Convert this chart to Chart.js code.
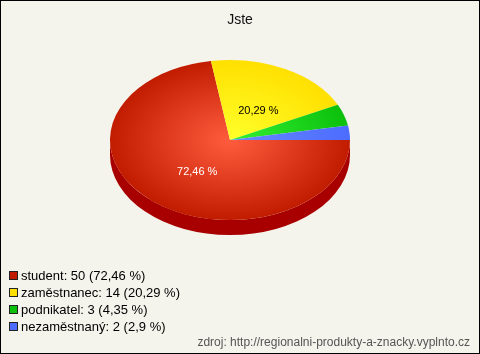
<!DOCTYPE html>
<html>
<head>
<meta charset="utf-8">
<script src="https://cdn.jsdelivr.net/npm/chart.js@4"></script>
<style>
    html, body { margin: 0; padding: 0; }
    body { width: 480px; height: 354px; overflow: hidden; }
    #frame {
        position: relative; width: 480px; height: 354px; box-sizing: border-box;
        border: 1px solid #000; background: #f4f3ec;
        font-family: "Liberation Sans", Arial, sans-serif;
    }
    #chart { position: absolute; left: 0; top: 0; }
    #title { position: absolute; left: 0; top: 10px; width: 478px; text-align: center; font-size: 14px; color: #111; }
    #legend { position: absolute; left: 8px; top: 266px; font-size: 13px; color: #000; }
    #legend div { height: 17px; line-height: 17px; white-space: nowrap; }
    #legend span.box { display: inline-block; width: 7px; height: 7px; border: 1px solid #222; margin-right: 3px; vertical-align: 0px; }
    #source { position: absolute; right: 9px; top: 334px; font-size: 12px; color: #555; }
</style>
</head>
<body>
<div id="frame">
    <canvas id="chart" width="478" height="352"></canvas>
    <div id="title">Jste</div>
    <div id="legend"></div>
    <div id="source">zdroj: http://regionalni-produkty-a-znacky.vyplnto.cz</div>
</div>
<script>
const labels = ['student', 'zaměstnanec', 'podnikatel', 'nezaměstnaný'];
const counts = [50, 14, 3, 2];
// light (centre) / dark (edge) / side wall
const lightColors = ['#ff5c3e', '#ffff2a', '#34f034', '#6888ff'];
const darkColors = ['#c21c00', '#ffe000', '#0cc00c', '#4c6cff'];
const sideColors = ['#a80000', '#c8b000', '#089008', '#3048c0'];
const labelColors = ['#ffffff', '#000000', '#000000', '#000000'];

const total = counts.reduce((a, b) => a + b, 0);
const pctText = v => (Math.round(v / total * 10000) / 100).toString().replace('.', ',') + ' %';

// squash factor for the tilted pie, and wall depth
const SQUASH = 80 / 120;
const DEPTH = 15;

// legend as text
const legendEl = document.getElementById('legend');
labels.forEach((l, i) => {
    const row = document.createElement('div');
    row.innerHTML = '<span class="box" style="background:' + darkColors[i] + '"></span>' +
        l + ': ' + counts[i] + ' (' + pctText(counts[i]) + ')';
    legendEl.appendChild(row);
});

const pie3d = {
    id: 'pie3d',
    beforeDatasetsDraw(chart) {
        const ctx = chart.ctx;
        const arcs = chart.getDatasetMeta(0).data;
        if (!arcs.length) return;
        const cx = arcs[0].x, cy = arcs[0].y, r = arcs[0].outerRadius;
        const ry = r * SQUASH;
        ctx.save();
        arcs.forEach((arc, i) => {
            let s = arc.startAngle, e = arc.endAngle;
            const a = Math.max(s, 0), b = Math.min(e, Math.PI);
            if (b <= a) return;
            ctx.beginPath();
            ctx.ellipse(cx, cy, r, ry, 0, a, b);
            ctx.lineTo(cx + r * Math.cos(b), cy + ry * Math.sin(b) + DEPTH);
            ctx.ellipse(cx, cy + DEPTH, r, ry, 0, b, a, true);
            ctx.closePath();
            ctx.fillStyle = sideColors[i];
            ctx.fill();
        });
        ctx.translate(cx, cy);
        ctx.scale(1, SQUASH);
        ctx.translate(-cx, -cy);
    },
    afterDatasetsDraw(chart) {
        const ctx = chart.ctx;
        ctx.restore();
        const arcs = chart.getDatasetMeta(0).data;
        ctx.save();
        ctx.font = '11px "Liberation Sans", Arial, sans-serif';
        ctx.textAlign = 'center';
        ctx.textBaseline = 'middle';
        arcs.forEach((arc, i) => {
            if (counts[i] / total < 0.1) return;
            const mid = (arc.startAngle + arc.endAngle) / 2;
            const k = 0.46 * arc.outerRadius;
            ctx.fillStyle = labelColors[i];
            ctx.fillText(pctText(counts[i]), arc.x + Math.cos(mid) * k + 3, arc.y + Math.sin(mid) * k * SQUASH + 3.5);
        });
        ctx.restore();
    }
};

function sliceFill(c) {
    const chart = c.chart;
    const area = chart.chartArea;
    if (!area) return darkColors[c.dataIndex];
    const x = (area.left + area.right) / 2, y = (area.top + area.bottom) / 2;
    const r = Math.min(area.right - area.left, area.bottom - area.top) / 2;
    const g = chart.ctx.createRadialGradient(x, y, 0, x, y, r);
    g.addColorStop(0, lightColors[c.dataIndex]);
    g.addColorStop(1, darkColors[c.dataIndex]);
    return g;
}

new Chart(document.getElementById('chart').getContext('2d'), {
    type: 'pie',
    data: {
        labels: labels,
        datasets: [{
            data: counts,
            backgroundColor: sliceFill,
            borderWidth: 0,
            hoverOffset: 0
        }]
    },
    options: {
        responsive: false,
        animation: false,
        rotation: 90,
        layout: { padding: { left: 109, right: 129, top: 19, bottom: 93 } },
        plugins: {
            legend: { display: false },
            title: { display: false },
            tooltip: { enabled: false }
        }
    },
    plugins: [pie3d]
});
</script>
</body>
</html>
